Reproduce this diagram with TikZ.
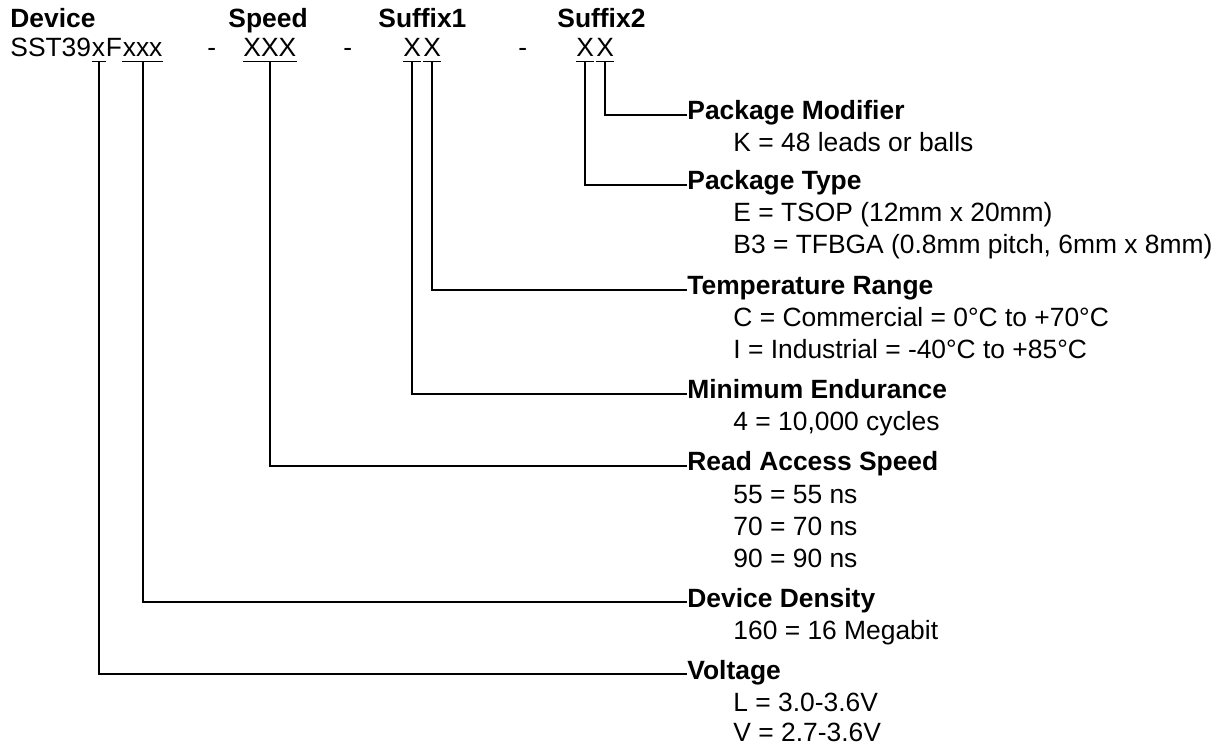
\documentclass[tikz,border=0pt]{standalone}
\usepackage{fontspec}
\setmainfont{Liberation Sans}
\usetikzlibrary{positioning}
\tikzset{
    head/.style = {
        font=\fontsize{13.2}{16}\selectfont\bfseries,
        inner sep=0pt,
        anchor=base west,
        },
    part/.style = {
        font=\fontsize{13.2}{16}\selectfont,
        inner xsep=0pt,
        inner ysep=2pt,
        anchor=base west,
        },
    item/.style = {
        font=\fontsize{13.2}{16}\selectfont,
        inner sep=0pt,
        anchor=base west,
        },
    uline/.style = {
        line width=0.7pt,
        },
    lead/.style = {
        draw,
        line width=1pt,
        },
}

\begin{document}
\begin{tikzpicture}[x=0.5pt, y=-0.5pt]
            \useasboundingbox (0,0) rectangle (1218,747);

            % column titles
            \node[head] (tdev) at (10,28) {Device};
            \node[head] (tspd) at (228,28) {Speed};
            \node[head] (tsf1) at (378,28) {Suffix1};
            \node[head] (tsf2) at (557,28) {Suffix2};

            % part number
            \node[part] (sst) at (10,57) {SST39};
            \node[part, at=(sst.base east)] (volt) {x};
            \node[part, at=(volt.base east)] (fam) {F};
            \node[part, at=(fam.base east)] (dens) {xxx};
            \node[part] (dash1) at (207,57) {-};
            \node[part] (spd) at (243,57) {XXX};
            \node[part] (dash2) at (343,57) {-};
            \node[part] (endu) at (403,57) {X};
            \node[part] (temp) at (423,57) {X};
            \node[part] (dash3) at (518,57) {-};
            \node[part] (ptype) at (576,57) {X};
            \node[part] (pmod) at (596,57) {X};

            \foreach \n in {volt,dens,spd,endu,temp,ptype,pmod}
                \draw[uline] (\n.south west) -- (\n.south east);

            % fields
            \node[head] (lpmod) at (687,120) {Package Modifier};
            \node[item] (pmodk) at (733,152) {K = 48 leads or balls};
            \node[head] (lptype) at (687,190) {Package Type};
            \node[item] (ptypee) at (733,222) {E = TSOP (12mm x 20mm)};
            \node[item] (ptypeb) at (733,254) {B3 = TFBGA (0.8mm pitch, 6mm x 8mm)};
            \node[head] (ltemp) at (687,295) {Temperature Range};
            \node[item] (tempc) at (733,327) {C = Commercial = 0°C to +70°C};
            \node[item] (tempi) at (733,359) {I = Industrial = -40°C to +85°C};
            \node[head] (lendu) at (687,399) {Minimum Endurance};
            \node[item] (endu4) at (733,431) {4 = 10,000 cycles};
            \node[head] (lspd) at (687,471) {Read Access Speed};
            \node[item] (spd55) at (733,503) {55 = 55 ns};
            \node[item] (spd70) at (733,535) {70 = 70 ns};
            \node[item] (spd90) at (733,567) {90 = 90 ns};
            \node[head] (ldens) at (687,607) {Device Density};
            \node[item] (dens160) at (733,639) {160 = 16 Megabit};
            \node[head] (lvolt) at (687,679) {Voltage};
            \node[item] (voltl) at (733,711) {L = 3.0-3.6V};
            \node[item] (voltv) at (733,741) {V = 2.7-3.6V};

            \path[lead] (pmod.south) |- (lpmod.mid west);
            \path[lead] (ptype.south) |- (lptype.mid west);
            \path[lead] (temp.south) |- (ltemp.mid west);
            \path[lead] (endu.south) |- (lendu.mid west);
            \path[lead] (spd.south) |- (lspd.mid west);
            \path[lead] (dens.south) |- (ldens.mid west);
            \path[lead] (volt.south) |- (lvolt.mid west);
        \end{tikzpicture}
\end{document}
